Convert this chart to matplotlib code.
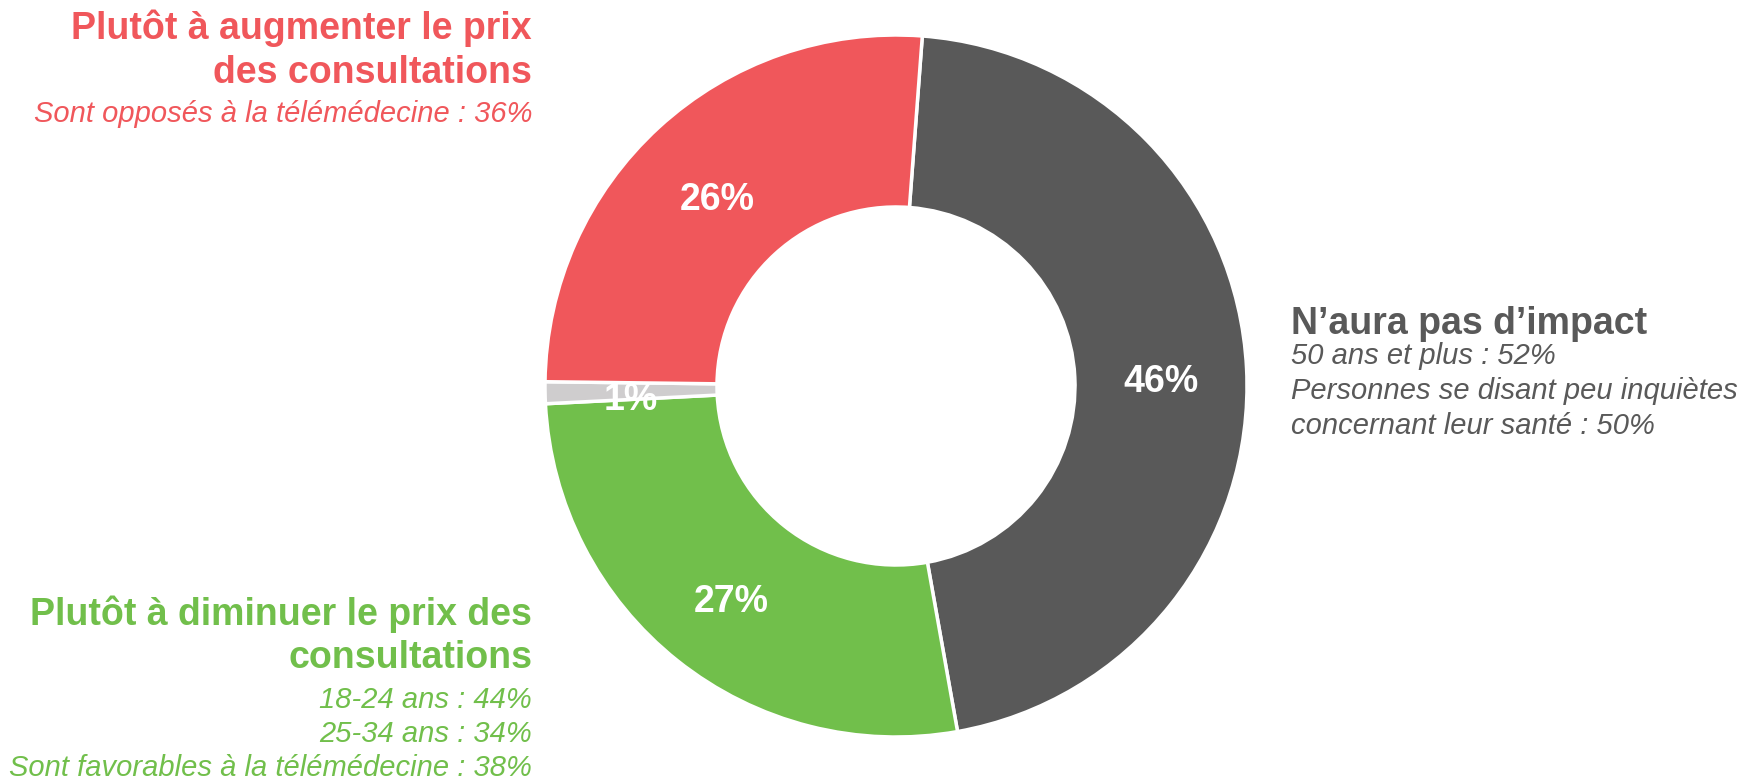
import matplotlib.pyplot as plt

plt.rcParams['font.family'] = ['Liberation Sans', 'DejaVu Sans']

# donnees
categories = ["N’aura pas d’impact", "Plutôt à diminuer le prix des consultations",
              "Ne sait pas", "Plutôt à augmenter le prix des consultations"]
valeurs = [46, 27, 1, 26]
couleurs = ["#595959", "#71BF4B", "#CFCDCE", "#F0575B"]

titre_rouge = ["Plutôt à augmenter le prix", "des consultations"]
detail_rouge = ["Sont opposés à la télémédecine : 36%"]
titre_vert = ["Plutôt à diminuer le prix des", "consultations"]
detail_vert = ["18-24 ans : 44%", "25-34 ans : 34%", "Sont favorables à la télémédecine : 38%"]
titre_gris = ["N’aura pas d’impact"]
detail_gris = ["50 ans et plus : 52%", "Personnes se disant peu inquiètes",
               "concernant leur santé : 50%"]

W, H = 1745, 779
fig = plt.figure(figsize=(W / 100, H / 100), dpi=100)

# donut centre (896, 386) px, rayon 351 px
cx, cy, r = 896, 386, 351
ax = fig.add_axes([(cx - r) / W, (H - cy - r) / H, 2 * r / W, 2 * r / H])
wedges, txts, pcts = ax.pie(valeurs, colors=couleurs, startangle=85.7, counterclock=False,
                            radius=1, autopct='%d%%', pctdistance=0.755,
                            wedgeprops=dict(width=0.49, edgecolor='white', linewidth=2.5),
                            textprops=dict(color='white', fontsize=27, fontweight='bold'))
# les etiquettes sont un peu plus bas dans l'original
for t in pcts:
    x, y = t.get_position()
    t.set_position((x, y - 9 / r))
ax.set_xlim(-1, 1)
ax.set_ylim(-1, 1)
ax.set_aspect('equal')
ax.axis('off')


def bloc(x, lignes, y0, dy, couleur, ha, gras):
    for i, t in enumerate(lignes):
        fig.text(x / W, 1 - (y0 + i * dy) / H, t, ha=ha, va='baseline', color=couleur,
                 fontsize=27 if gras else 21,
                 fontweight='bold' if gras else 'normal',
                 fontstyle='normal' if gras else 'italic')


bloc(532, titre_rouge, 39, 44, couleurs[3], 'right', True)
bloc(532, detail_rouge, 122, 34, couleurs[3], 'right', False)
bloc(532, titre_vert, 625, 43, couleurs[1], 'right', True)
bloc(532, detail_vert, 708, 34, couleurs[1], 'right', False)
bloc(1291, titre_gris, 334, 44, couleurs[0], 'left', True)
bloc(1291, detail_gris, 364, 35, couleurs[0], 'left', False)

fig.savefig("out.png", dpi=100)
